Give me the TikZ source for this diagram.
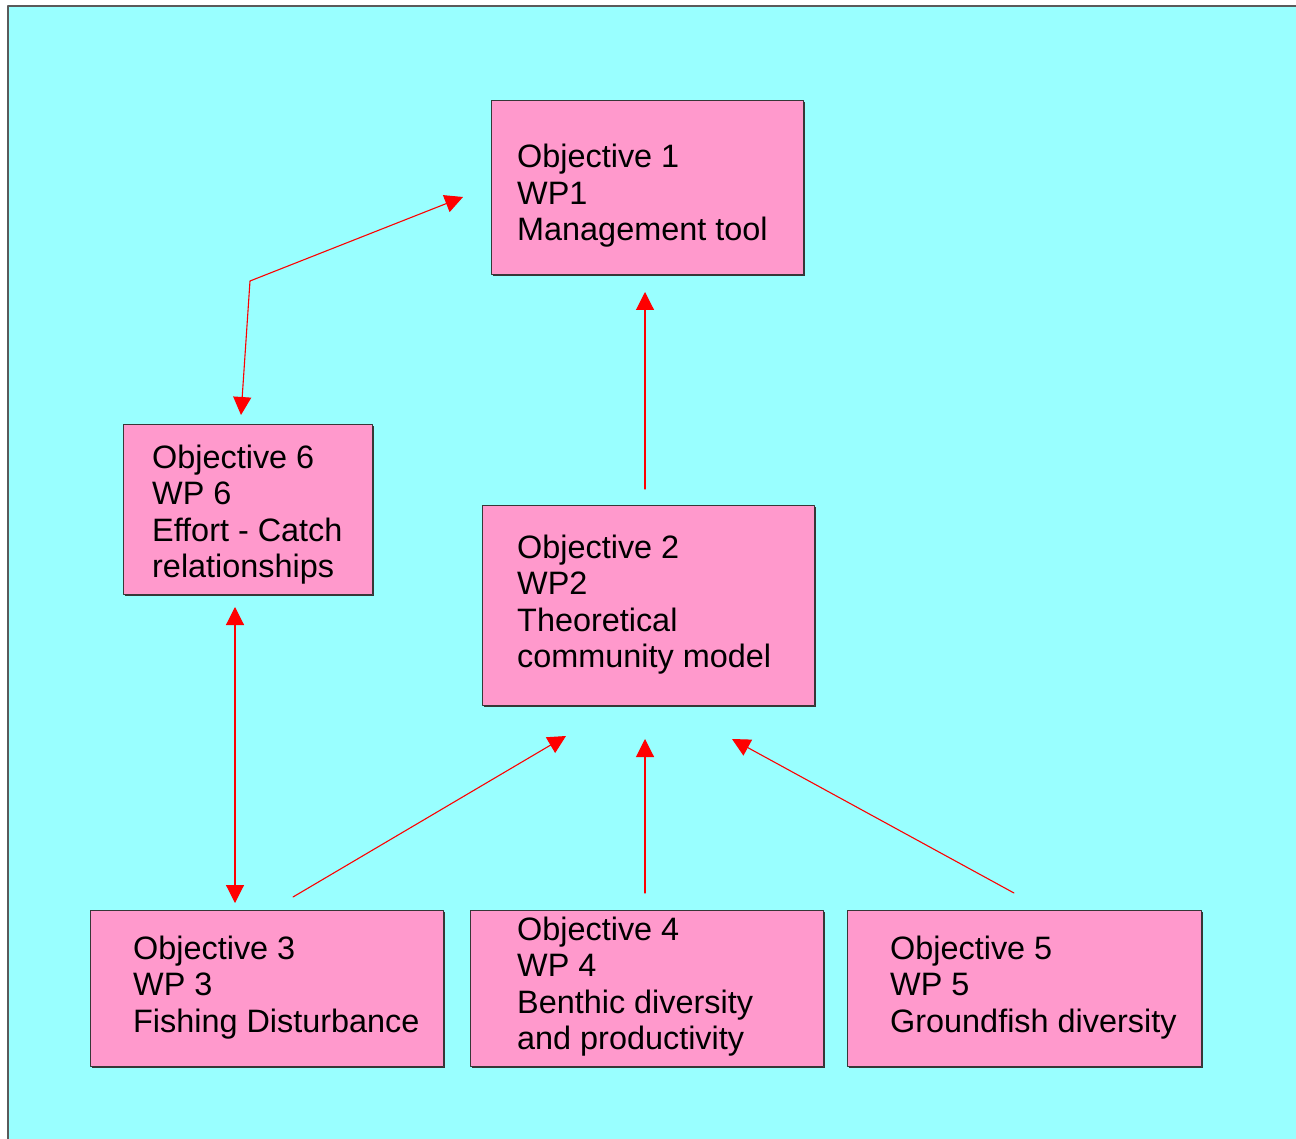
\documentclass[tikz,border=0pt]{standalone}
\usepackage{fontspec}
\setmainfont{Liberation Sans}
\usetikzlibrary{arrows.meta,positioning,shadows}
\definecolor{slidecyan}{RGB}{153,255,255}
\definecolor{boxpink}{RGB}{255,153,204}
\definecolor{boxedge}{RGB}{55,55,55}
\definecolor{frameedge}{RGB}{90,90,90}

\tikzset{
 objbox/.style={draw=boxedge,line width=1pt,fill=boxpink,anchor=north west,inner sep=0pt,
  drop shadow={shadow xshift=1.5pt,shadow yshift=-1.5pt,fill=boxedge,opacity=1}},
 % base = linia bazowa ostatniego wiersza
 objtext/.style={anchor=base west,align=left,inner sep=0pt,
  font=\fontsize{32.4}{36.5}\selectfont},
 link/.style={red,line width=1.1pt,-{Triangle[length=18pt,width=18pt]}},
 twolink/.style={link,{Triangle[length=18pt,width=18pt]}-{Triangle[length=18pt,width=18pt]}}
}

\begin{document}
\begin{tikzpicture}[x=1pt,y=-1pt,line cap=round,line join=round]
 \useasboundingbox (0,0) rectangle (1296,1139);
 % Tlo slajdu.
 \draw[frameedge,line width=1.5pt,fill=slidecyan] (8,6) rectangle (1310,1150);
 % Ramki celow.
 \node[objbox,minimum width=312pt,minimum height=174pt] (obj1) at (491,100) {};
 \node[objbox,minimum width=249pt,minimum height=170pt] (obj6) at (123,424) {};
 \node[objbox,minimum width=332pt,minimum height=200pt] (obj2) at (482,505) {};
 \node[objbox,minimum width=353pt,minimum height=156pt] (obj3) at (90,910) {};
 \node[objbox,minimum width=353pt,minimum height=156pt] (obj4) at (470,910) {};
 \node[objbox,minimum width=354pt,minimum height=156pt] (obj5) at (847,910) {};
 % Opisy celow.
 \node[objtext] (obj1t) at (517,241) {Objective 1\\WP1\\Management tool};
 \node[objtext] (obj6t) at (152,577.5) {Objective 6\\WP 6\\Effort - Catch\\relationships};
 \node[objtext] (obj2t) at (517,667.5) {Objective 2\\WP2\\Theoretical\\community model};
 \node[objtext] (obj3t) at (133,1032) {Objective 3\\WP 3\\Fishing Disturbance};
 \node[objtext] (obj4t) at (517,1049.5) {Objective 4\\WP 4\\Benthic diversity\\and productivity};
 \node[objtext] (obj5t) at (890,1032) {Objective 5\\WP 5\\Groundfish diversity};
 % Konce strzalek.
 \coordinate (from2) at (645,489);
 \coordinate (to1) at (645,292);
 \coordinate (to6a) at (241,415);
 \coordinate (bend) at (250,281);
 \coordinate (to1a) at (463,197);
 \coordinate (to6b) at (235,607);
 \coordinate (to3) at (235,903);
 \coordinate (from3) at (293,897);
 \coordinate (to2a) at (566,736);
 \coordinate (from4) at (645,893);
 \coordinate (to2b) at (645,739);
 \coordinate (from5) at (1014,893);
 \coordinate (to2c) at (732,739);
 % Strzalki.
 \draw[link] (from2) -- (to1);
 \draw[twolink] (to6a) -- (bend) -- (to1a);
 \draw[twolink] (to6b) -- (to3);
 \draw[link] (from3) -- (to2a);
 \draw[link] (from4) -- (to2b);
 \draw[link] (from5) -- (to2c);
\end{tikzpicture}
\end{document}
